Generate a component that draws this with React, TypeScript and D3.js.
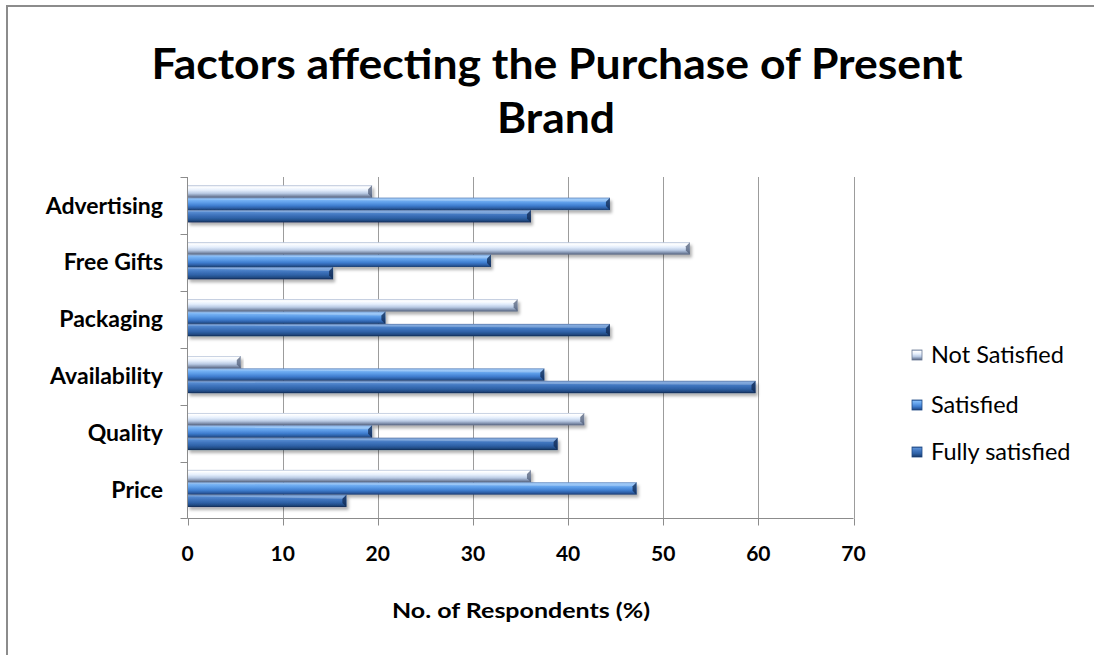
import React, { useEffect } from "react";
import * as d3 from "d3";

const categories = ["Price", "Quality", "Availability", "Packaging", "Free Gifts", "Advertising"];
const seriesNames = ["Not Satisfied", "Satisfied", "Fully satisfied"];
const notSatisfied = [36.1, 41.7, 5.6, 34.7, 52.8, 19.4];
const satisfied = [47.2, 19.4, 37.5, 20.8, 31.9, 44.4];
const fullySatisfied = [16.7, 38.9, 59.7, 44.4, 15.3, 36.1];
const xTicks = [0, 10, 20, 30, 40, 50, 60, 70];

const W = 1094;
const H = 655;
const plot = { left: 187.5, right: 853.5, top: 177, bottom: 518.5 };
const FONT = "Lato, 'Open Sans', sans-serif";

const gradients: Record<string, [number, string][]> = {
  g0: [[0, "#95a8c8"], [0.12, "#ffffff"], [0.4, "#e4eefc"], [0.65, "#b9cae4"], [0.85, "#7f8fac"], [1, "#525f79"]],
  g1: [[0, "#3566ac"], [0.12, "#80baf8"], [0.4, "#5d9de8"], [0.65, "#3f7dcf"], [0.85, "#2b5da3"], [1, "#1b3c6e"]],
  g2: [[0, "#27508e"], [0.12, "#5a8fd4"], [0.4, "#3f74bd"], [0.65, "#2e61a6"], [0.85, "#214a83"], [1, "#122a52"]],
};

export default function App() {
  useEffect(() => {
    document.documentElement.style.overflow = "hidden";
    document.body.style.margin = "0";
  }, []);
  const x = d3.scaleLinear().domain([0, 70]).range([plot.left, plot.right]);
  const catsTop = [...categories].reverse();
  const y = d3.scaleBand<string>().domain(catsTop).range([plot.top, plot.bottom]);
  const inner = d3
    .scaleBand<string>()
    .domain(seriesNames)
    .range([0, y.bandwidth()])
    .paddingInner(0)
    .paddingOuter(0.8)
    .align(0.42);
  const values = [notSatisfied, satisfied, fullySatisfied];

  const bars: JSX.Element[] = [];
  categories.forEach((c, ci) => {
    seriesNames.forEach((s, si) => {
      const v = values[si][ci];
      const by = (y(c) as number) + (inner(s) as number);
      const bh = inner.bandwidth();
      const x0 = x(0);
      const x1 = x(v);
      const b = Math.min(4, (x1 - x0) / 2);
      bars.push(
        <g key={c + s} filter="url(#shadow)">
          <rect x={x0} y={by} width={x1 - x0} height={bh} fill={`url(#g${si})`} />
          <polygon
            points={`${x1 - b},${by + b} ${x1},${by} ${x1},${by + bh} ${x1 - b},${by + bh - b}`}
            fill={si === 0 ? "#525f79" : "#122a52"}
            opacity={0.75}
          />
          <polygon
            points={`${x1 - b},${by + b} ${x1},${by} ${x0},${by} ${x0},${by + 1.5}`}
            fill="#ffffff"
            opacity={0.25}
          />
        </g>
      );
    });
  });

  const legendY = [355, 405, 452];

  return (
    <svg
      width={W}
      height={H}
      style={{ position: "absolute", left: 0, top: 0, background: "#fff", display: "block" }}
      fontFamily={FONT}
    >
      <defs>
        {Object.entries(gradients).map(([id, stops]) => (
          <linearGradient key={id} id={id} x1="0" y1="0" x2="0" y2="1">
            {stops.map(([o, col], i) => (
              <stop key={i} offset={o} stopColor={col} />
            ))}
          </linearGradient>
        ))}
        <filter id="shadow" x="-5%" y="-50%" width="110%" height="250%">
          <feDropShadow dx="2" dy="3" stdDeviation="1.8" floodColor="#000" floodOpacity="0.3" />
        </filter>
      </defs>
      <rect x={0} y={0} width={W} height={H} fill="#fff" />
      {/* chart frame */}
      <path d={`M7,${H + 5} L7,6 L${W + 5},6`} fill="none" stroke="#8c8c8c" strokeWidth={2} />

      {/* title */}
      <text x={557} y={79} textAnchor="middle" fontSize={42} fontWeight="bold" fill="#000"
        textLength={811} lengthAdjust="spacingAndGlyphs">
        Factors affecting the Purchase of Present
      </text>
      <text x={556} y={133} textAnchor="middle" fontSize={42} fontWeight="bold" fill="#000"
        textLength={118} lengthAdjust="spacingAndGlyphs">
        Brand
      </text>

      {/* gridlines */}
      {xTicks.slice(1).map((t) => (
        <line key={t} x1={Math.round(x(t)) + 0.5} x2={Math.round(x(t)) + 0.5} y1={plot.top} y2={plot.bottom}
          stroke="#9c9c9c" strokeWidth={1} />
      ))}

      {bars}

      {/* axes */}
      <line x1={plot.left} x2={plot.left} y1={plot.top} y2={plot.bottom} stroke="#8c8c8c" strokeWidth={1} />
      <line x1={plot.left} x2={plot.right} y1={plot.bottom} y2={plot.bottom} stroke="#8c8c8c" strokeWidth={1} />
      {catsTop.map((c) => (
        <line key={"t" + c} x1={plot.left - 7} x2={plot.left} y1={Math.round(y(c) as number) + 0.5}
          y2={Math.round(y(c) as number) + 0.5} stroke="#8c8c8c" />
      ))}
      <line x1={plot.left - 7} x2={plot.left} y1={plot.bottom} y2={plot.bottom} stroke="#8c8c8c" />
      {xTicks.map((t) => (
        <line key={"xt" + t} x1={Math.round(x(t)) + 0.5} x2={Math.round(x(t)) + 0.5} y1={plot.bottom}
          y2={plot.bottom + 7} stroke="#8c8c8c" />
      ))}

      {/* category labels */}
      {catsTop.map((c) => (
        <text key={"l" + c} x={163} y={(y(c) as number) + y.bandwidth() / 2} dy="0.35em" textAnchor="end"
          fontSize={23} fontWeight="bold" fill="#000">
          {c}
        </text>
      ))}

      {/* x tick labels */}
      {xTicks.map((t) => (
        <text key={"xl" + t} x={x(t)} y={554} dy="0.35em" textAnchor="middle" fontSize={21} fontWeight="bold"
          fill="#000">
          {t}
        </text>
      ))}

      <text x={521} y={611} dy="0.35em" textAnchor="middle" fontSize={21} fontWeight="bold" fill="#000"
        textLength={258} lengthAdjust="spacingAndGlyphs">
        No. of Respondents (%)
      </text>

      {/* legend */}
      {seriesNames.map((s, i) => (
        <g key={"lg" + s}>
          <rect x={912} y={legendY[i] - 5} width={10} height={10} fill={`url(#g${i})`} stroke={i === 0 ? "#6d7c96" : "#1f4a85"} strokeWidth={0.8} />
          <text x={931} y={legendY[i]} dy="0.35em" fontSize={23.5} fill="#000">
            {s}
          </text>
        </g>
      ))}
    </svg>
  );
}
